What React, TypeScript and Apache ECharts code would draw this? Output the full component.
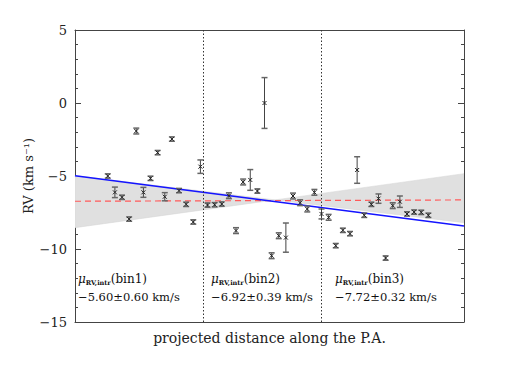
import React, { useEffect, useRef } from "react";
import * as echarts from "echarts";

// Radial velocities (km/s) of the stars, ordered along the P.A.
const rvValues = [
  -5.0, -6.12, -6.46, -7.95, -1.92, -6.12, -5.16, -3.4, -6.42, -2.47,
  -6.0, -6.94, -8.15, -4.36, -6.99, -6.97, -6.92, -6.35, -8.74, -5.41,
  -5.27, -6.03, 0.0, -10.46, -9.09, -9.22, -6.37, -6.83, -7.26, -6.12,
  -7.6, -7.83, -9.77, -8.72, -8.95, -4.59, -7.69, -6.94, -6.55, -10.62,
  -7.03, -6.76, -7.6, -7.47, -7.49, -7.69,
];
const rvErrors = [
  0.15, 0.36, 0.15, 0.15, 0.2, 0.34, 0.15, 0.15, 0.28, 0.15,
  0.15, 0.15, 0.15, 0.46, 0.15, 0.15, 0.15, 0.2, 0.2, 0.2,
  0.71, 0.15, 1.74, 0.2, 0.2, 1.0, 0.2, 0.2, 0.2, 0.2,
  0.34, 0.2, 0.15, 0.15, 0.15, 0.91, 0.15, 0.15, 0.32, 0.15,
  0.2, 0.39, 0.15, 0.15, 0.15, 0.15,
];
const xRange = [-3.6, 51];
const yRange = [-15, 5];
const yInterval = 5;
const binEdges = [14.4, 31];
const fitLine = [-4.98, -8.42]; // RV at xRange[0], xRange[1]
const meanLine = [-6.73, -6.64];
const bandLineA = [-4.98, -8.2];
const bandLineB = [-8.54, -4.84];
const binNames = ["bin1", "bin2", "bin3"];
const binValues = ["−5.60±0.60 km/s", "−6.92±0.39 km/s", "−7.72±0.32 km/s"];

const SERIF = "DejaVu Serif";

export default function App() {
  const ref = useRef<HTMLDivElement>(null);
  useEffect(() => {
    if (!ref.current) return;
    const chart = echarts.init(ref.current, null, { renderer: "svg" });
    const points = rvValues.map((v, i) => [i + 1, v, rvErrors[i]]);

    // intersection of band lines
    const [x0, x1] = xRange;
    const sA = (bandLineA[1] - bandLineA[0]) / (x1 - x0);
    const sB = (bandLineB[1] - bandLineB[0]) / (x1 - x0);
    const tx = x0 + (bandLineB[0] - bandLineA[0]) / (sA - sB);
    const ty = bandLineA[0] + sA * (tx - x0);

    const binTextX = [78, 211, 335];
    const graphics: any[] = [];
    binNames.forEach((b, i) => {
      graphics.push({
        type: "text",
        left: binTextX[i],
        top: 273,
        style: {
          text: `{mu|μ}{sub|RV,intr}{n|(${b})}`,
          rich: {
            mu: { fontFamily: SERIF, fontStyle: "italic", fontSize: 12, fill: "#111" },
            sub: { fontFamily: SERIF, fontSize: 6.5, fill: "#111", fontWeight: "bold", padding: [7, 0, 0, 0] },
            n: { fontFamily: SERIF, fontSize: 12, fill: "#111" },
          },
        },
      });
      graphics.push({
        type: "text",
        left: binTextX[i],
        top: 291,
        style: { text: binValues[i], fontFamily: SERIF, fontSize: 11.5, fill: "#111" },
      });
    });
    graphics.push({
      type: "text",
      x: 28,
      y: 176,
      rotation: Math.PI / 2,
      style: {
        text: "RV (km s⁻¹)",
        fontFamily: SERIF,
        fontSize: 13,
        fill: "#222",
        align: "center",
        verticalAlign: "middle",
      },
    });

    const axisLine = { show: true, onZero: false, lineStyle: { color: "#444", width: 1 } };
    chart.setOption({
      animation: false,
      grid: { left: 75, right: 46, top: 30, bottom: 60 },
      xAxis: [
        {
          type: "value",
          min: xRange[0],
          max: xRange[1],
          axisLine,
          axisTick: { show: false },
          axisLabel: { show: false },
          splitLine: { show: false },
          name: "projected distance along the P.A.",
          nameLocation: "middle",
          nameGap: 9,
          nameTextStyle: { fontFamily: SERIF, fontSize: 14, color: "#222" },
        },
        {
          type: "value",
          position: "top",
          min: xRange[0],
          max: xRange[1],
          axisLine,
          axisTick: { show: false },
          axisLabel: { show: false },
          splitLine: { show: false },
        },
      ],
      yAxis: [
        {
          type: "value",
          min: yRange[0],
          max: yRange[1],
          interval: yInterval,
          axisLine,
          axisTick: { show: true, inside: true, length: 6, lineStyle: { color: "#444" } },
          minorTick: { show: true, splitNumber: 5, length: 3, lineStyle: { color: "#444" } },
          axisLabel: {
            fontFamily: SERIF,
            fontSize: 13,
            color: "#222",
            margin: 8,
            formatter: (v: number) => (v < 0 ? "−" + Math.abs(v) : String(v)),
          },
          splitLine: { show: false },
          minorSplitLine: { show: false },
        },
        {
          type: "value",
          position: "right",
          min: yRange[0],
          max: yRange[1],
          interval: yInterval,
          axisLine,
          axisTick: { show: true, inside: true, length: 6, lineStyle: { color: "#444" } },
          minorTick: { show: true, splitNumber: 5, length: 3, lineStyle: { color: "#444" } },
          axisLabel: { show: false },
          splitLine: { show: false },
        },
      ],
      graphic: graphics,
      series: [
        {
          type: "custom",
          clip: true,
          data: [[x0, 0]],
          z: 1,
          renderItem: (params: any, api: any) => {
            const pA0 = api.coord([x0, bandLineA[0]]);
            const pB0 = api.coord([x0, bandLineB[0]]);
            const pA1 = api.coord([x1, bandLineA[1]]);
            const pB1 = api.coord([x1, bandLineB[1]]);
            const pt = api.coord([tx, ty]);
            const style = { fill: "#e0e0e0", stroke: "#d4d4d4", lineWidth: 0.5 };
            return {
              type: "group",
              children: [
                { type: "polygon", shape: { points: [pA0, pt, pB0] }, style },
                { type: "polygon", shape: { points: [pB1, pt, pA1] }, style },
              ],
            };
          },
        },
        {
          type: "line",
          data: [
            [x0, meanLine[0]],
            [x1, meanLine[1]],
          ],
          showSymbol: false,
          z: 2,
          lineStyle: { color: "#ff5a5a", width: 1.2, type: [6, 4] },
        },
        {
          type: "line",
          data: [
            [x0, fitLine[0]],
            [x1, fitLine[1]],
          ],
          showSymbol: false,
          z: 3,
          lineStyle: { color: "#1414ff", width: 1.6 },
          markLine: {
            silent: true,
            symbol: "none",
            label: { show: false },
            lineStyle: { color: "#333", type: [1.5, 2], width: 1 },
            data: binEdges.map((e) => ({ xAxis: e })),
          },
        },
        {
          type: "custom",
          z: 4,
          data: points,
          renderItem: (params: any, api: any) => {
            const x = api.value(0);
            const y = api.value(1);
            const e = api.value(2);
            const c = api.coord([x, y]);
            const t = api.coord([x, y + e]);
            const b = api.coord([x, y - e]);
            const cap = 3;
            const m = 2;
            return {
              type: "group",
              children: [
                { type: "line", shape: { x1: c[0], y1: t[1], x2: c[0], y2: b[1] }, style: { stroke: "#444", lineWidth: 1 } },
                { type: "line", shape: { x1: c[0] - cap, y1: t[1], x2: c[0] + cap, y2: t[1] }, style: { stroke: "#666", lineWidth: 1.5 } },
                { type: "line", shape: { x1: c[0] - cap, y1: b[1], x2: c[0] + cap, y2: b[1] }, style: { stroke: "#666", lineWidth: 1.5 } },
                { type: "line", shape: { x1: c[0] - m, y1: c[1] - m, x2: c[0] + m, y2: c[1] + m }, style: { stroke: "#222", lineWidth: 1 } },
                { type: "line", shape: { x1: c[0] - m, y1: c[1] + m, x2: c[0] + m, y2: c[1] - m }, style: { stroke: "#222", lineWidth: 1 } },
              ],
            };
          },
        },
      ],
    });
    return () => chart.dispose();
  }, []);
  return (
    <div
      ref={ref}
      style={{ position: "fixed", left: 0, top: 0, width: 510, height: 382, background: "#fff" }}
    />
  );
}
